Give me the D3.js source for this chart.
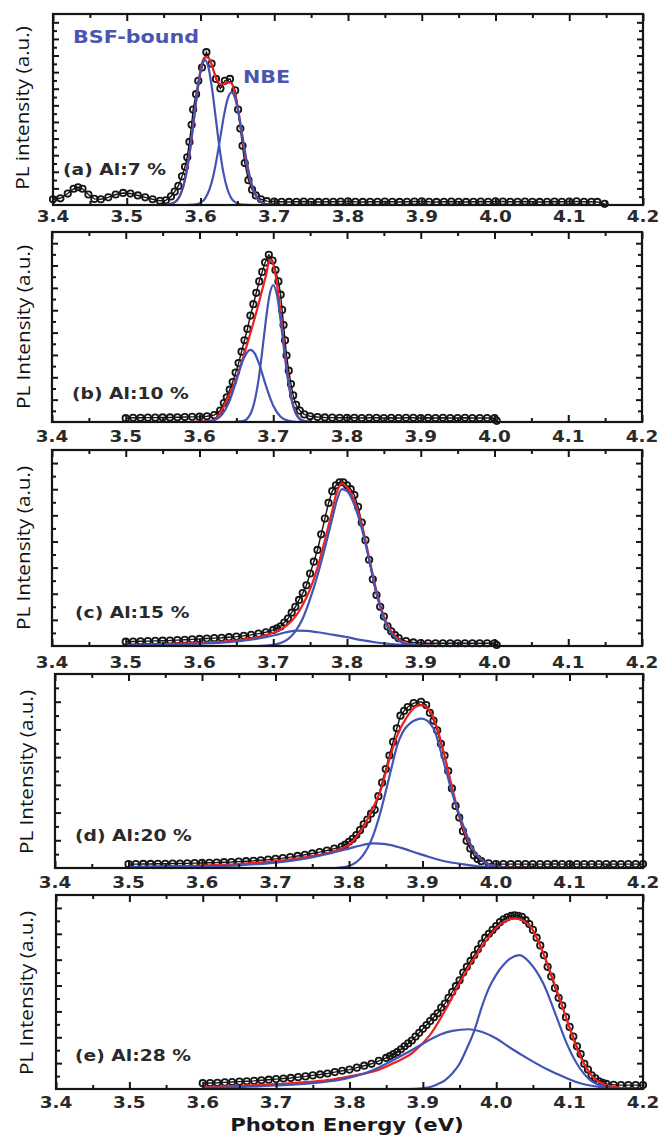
<!DOCTYPE html>
<html>
<head>
<meta charset="utf-8">
<script src="https://cdn.jsdelivr.net/npm/d3@7"></script>
<style>
body { margin: 0; background: #fff; }
svg { display: block; }
</style>
</head>
<body>
<div id="chart"></div>
<script>
// tick labels and texts
var energyTicks = [3.4, 3.5, 3.6, 3.7, 3.8, 3.9, 4.0, 4.1, 4.2];
var energyMinor = [3.45, 3.55, 3.65, 3.75, 3.85, 3.95, 4.05, 4.15];
var panelNames = ["(a) Al:7 %", "(b) Al:10 %", "(c) Al:15 %", "(d) Al:20 %", "(e) Al:28 %"];
var yTitles = ["PL intensity (a.u.)", "PL Intensity (a.u.)", "PL Intensity (a.u.)", "PL Intensity (a.u.)", "PL Intensity (a.u.)"];
var xTitle = "Photon Energy (eV)";
var peakNames = ["BSF-bound", "NBE"];

// (a) Al:7 %  -- [energy eV, intensity]
var dataA = [[3.400,.03],[3.410,.035],[3.420,.06],[3.428,.085],[3.434,.093],[3.440,.085],[3.448,.055],[3.456,.032],[3.465,.03],[3.475,.04],[3.485,.055],[3.495,.063],[3.505,.06],[3.515,.05],[3.525,.04],[3.535,.03],[3.545,.022],[3.553,.025],[3.560,.045],[3.565,.07],[3.570,.10],[3.575,.15],[3.579,.20],[3.582,.25],[3.585,.33],[3.588,.42],[3.590,.50],[3.594,.58],[3.597,.65],[3.602,.72],[3.608,.80],[3.615,.74],[3.621,.66],[3.627,.61],[3.633,.65],[3.640,.66],[3.647,.60],[3.651,.50],[3.654,.40],[3.657,.31],[3.660,.22],[3.665,.13],[3.670,.08],[3.675,.05],[3.682,.03],[3.690,.02],
  [3.70,.018],[3.71,.017],[3.72,.016],[3.73,.017],[3.74,.018],[3.75,.017],[3.76,.016],[3.77,.017],[3.78,.017],[3.79,.018],[3.80,.019],[3.81,.017],[3.82,.016],[3.83,.017],[3.84,.017],[3.85,.018],[3.86,.017],[3.87,.016],[3.88,.017],[3.89,.018],[3.90,.019],[3.91,.017],[3.92,.016],[3.93,.017],[3.94,.018],[3.95,.017],[3.96,.016],[3.97,.017],[3.98,.018],[3.99,.017],[4.00,.019],[4.01,.018],[4.02,.017],[4.03,.017],[4.04,.018],[4.05,.017],[4.06,.016],[4.07,.017],[4.08,.018],[4.09,.017],[4.10,.018],[4.11,.019],[4.12,.017],[4.13,.017],[4.138,.016],[4.148,.006]];
var fitA = [[3.40,0],[3.55,0],[3.556,.002],[3.566,.017],[3.571,.041],[3.576,.089],[3.581,.171],[3.586,.293],[3.591,.446],[3.596,.604],[3.601,.726],[3.606,.775],[3.611,.77],[3.616,.725],[3.621,.666],[3.626,.635],[3.631,.632],[3.636,.642],[3.641,.64],[3.646,.595],[3.651,.50],[3.656,.372],[3.661,.25],[3.666,.153],[3.671,.085],[3.676,.041],[3.681,.018],[3.69,.004],[3.71,0],[4.14,0]];
var bsfA = [[3.40,0],[3.55,0],[3.556,.002],[3.566,.017],[3.571,.041],[3.576,.089],[3.581,.171],[3.586,.293],[3.591,.445],[3.596,.60],[3.601,.716],[3.606,.76],[3.611,.716],[3.616,.60],[3.621,.445],[3.626,.293],[3.631,.171],[3.636,.089],[3.641,.041],[3.646,.017],[3.656,.002],[3.67,0],[4.14,0]];
var nbeA = [[3.40,0],[3.58,0],[3.592,.002],[3.602,.017],[3.607,.039],[3.612,.08],[3.617,.147],[3.622,.243],[3.627,.358],[3.632,.472],[3.637,.558],[3.642,.59],[3.647,.558],[3.652,.472],[3.657,.358],[3.662,.243],[3.667,.147],[3.672,.08],[3.677,.039],[3.682,.017],[3.692,.002],[3.71,0],[4.14,0]];

// (b) Al:10 %
var dataB = [[3.500,.02],[3.51,.022],[3.52,.022],[3.53,.023],[3.54,.023],[3.55,.024],[3.56,.024],[3.57,.025],[3.58,.026],[3.59,.027],[3.60,.028],[3.61,.03],[3.62,.036],[3.628,.06],[3.633,.10],[3.637,.13],[3.641,.17],[3.645,.21],[3.649,.26],[3.653,.31],[3.657,.37],[3.661,.43],[3.665,.49],[3.669,.56],[3.673,.62],[3.677,.68],[3.681,.74],[3.685,.79],[3.689,.84],[3.694,.88],[3.699,.85],[3.703,.80],[3.707,.74],[3.710,.67],[3.712,.59],[3.714,.51],[3.716,.43],[3.718,.35],[3.721,.27],[3.724,.20],[3.727,.14],[3.731,.09],[3.736,.06],[3.742,.04],[3.75,.03],[3.76,.026],[3.77,.024],[3.78,.023],[3.79,.022],[3.80,.022],[3.81,.022],[3.82,.021],[3.83,.022],[3.84,.022],[3.85,.021],[3.86,.022],[3.87,.021],[3.88,.022],[3.89,.022],[3.90,.021],[3.91,.022],[3.92,.021],[3.93,.022],[3.94,.021],[3.95,.021],[3.96,.022],[3.97,.021],[3.98,.021],[3.99,.021],[4.00,.02],[4.003,.006]];
var fitB = [[3.50,0],[3.58,0],[3.60,.002],[3.62,.012],[3.63,.06],[3.64,.14],[3.646,.19],[3.65,.23],[3.66,.35],[3.67,.48],[3.68,.62],[3.69,.77],[3.6955,.855],[3.699,.84],[3.705,.73],[3.71,.57],[3.715,.39],[3.72,.23],[3.725,.12],[3.73,.055],[3.74,.008],[3.75,.001],[3.76,0],[4.0,0]];
var bsfB = [[3.50,0],[3.58,0],[3.61,.002],[3.62,.009],[3.63,.036],[3.64,.104],[3.65,.218],[3.66,.335],[3.669,.38],[3.675,.36],[3.68,.315],[3.69,.192],[3.70,.086],[3.71,.028],[3.72,.007],[3.73,.001],[3.75,0],[4.0,0]];
var nbeB = [[3.50,0],[3.64,0],[3.65,.001],[3.66,.006],[3.67,.05],[3.68,.22],[3.685,.37],[3.69,.535],[3.695,.669],[3.70,.72],[3.705,.669],[3.71,.535],[3.715,.37],[3.72,.22],[3.73,.05],[3.74,.006],[3.75,.001],[3.76,0],[4.0,0]];

// (c) Al:15 %
var dataC = [[3.50,.022],[3.51,.023],[3.52,.024],[3.53,.025],[3.54,.026],[3.55,.027],[3.56,.028],[3.57,.03],[3.58,.032],[3.59,.034],[3.60,.036],[3.61,.038],[3.62,.04],[3.63,.042],[3.64,.045],[3.65,.048],[3.66,.052],[3.67,.057],[3.68,.063],[3.69,.07],[3.70,.082],[3.705,.09],[3.71,.10],[3.715,.12],[3.72,.14],[3.725,.17],[3.73,.20],[3.735,.235],[3.74,.27],[3.745,.31],[3.75,.37],[3.755,.43],[3.76,.49],[3.765,.57],[3.77,.65],[3.775,.73],[3.78,.79],[3.785,.82],[3.79,.835],[3.795,.835],[3.80,.82],[3.805,.80],[3.81,.77],[3.815,.71],[3.82,.63],[3.825,.54],[3.83,.44],[3.835,.34],[3.84,.26],[3.845,.20],[3.85,.15],[3.855,.10],[3.86,.075],[3.865,.055],[3.87,.04],[3.88,.025],[3.89,.018],[3.90,.015],[3.91,.014],[3.92,.014],[3.93,.014],[3.94,.014],[3.95,.014],[3.96,.014],[3.97,.014],[3.98,.014],[3.99,.014],[4.00,.014],[4.003,.005]];
var fitC = [[3.50,.005],[3.55,.01],[3.60,.016],[3.65,.028],[3.68,.045],[3.70,.068],[3.71,.085],[3.72,.11],[3.73,.15],[3.74,.21],[3.75,.29],[3.76,.40],[3.77,.54],[3.78,.69],[3.785,.77],[3.793,.83],[3.80,.81],[3.81,.74],[3.82,.62],[3.83,.45],[3.84,.28],[3.85,.15],[3.86,.075],[3.87,.035],[3.88,.015],[3.90,.004],[3.93,0],[4.0,0]];
var bsfC = [[3.50,.003],[3.55,.006],[3.60,.012],[3.64,.02],[3.67,.032],[3.69,.045],[3.705,.058],[3.72,.072],[3.732,.078],[3.745,.077],[3.76,.07],[3.78,.058],[3.80,.045],[3.82,.03],[3.84,.018],[3.86,.01],[3.88,.005],[3.92,.001],[4.0,0]];
var nbeC = [[3.50,0],[3.68,0],[3.69,.002],[3.70,.006],[3.71,.015],[3.72,.035],[3.73,.075],[3.74,.14],[3.75,.24],[3.76,.36],[3.77,.50],[3.78,.65],[3.786,.74],[3.793,.80],[3.80,.79],[3.81,.72],[3.82,.60],[3.83,.44],[3.84,.27],[3.85,.14],[3.86,.065],[3.87,.028],[3.88,.01],[3.90,.002],[3.92,0],[4.0,0]];

// (d) Al:20 %
var dataD = [[3.50,.02],[3.51,.02],[3.52,.021],[3.53,.021],[3.54,.022],[3.55,.022],[3.56,.023],[3.57,.023],[3.58,.024],[3.59,.025],[3.60,.026],[3.61,.027],[3.62,.028],[3.63,.03],[3.64,.031],[3.65,.033],[3.66,.035],[3.67,.037],[3.68,.04],[3.69,.043],[3.70,.047],[3.71,.051],[3.72,.056],[3.73,.062],[3.74,.068],[3.75,.075],[3.76,.082],[3.77,.09],[3.78,.10],[3.79,.11],[3.795,.12],[3.80,.135],[3.805,.15],[3.81,.17],[3.815,.195],[3.82,.225],[3.825,.25],[3.83,.28],[3.835,.30],[3.84,.37],[3.845,.44],[3.85,.51],[3.855,.58],[3.86,.65],[3.865,.72],[3.87,.785],[3.875,.81],[3.88,.83],[3.888,.85],[3.898,.857],[3.905,.84],[3.91,.80],[3.915,.76],[3.92,.71],[3.925,.64],[3.93,.58],[3.935,.50],[3.94,.41],[3.945,.32],[3.95,.26],[3.955,.19],[3.96,.14],[3.965,.10],[3.97,.065],[3.975,.047],[3.98,.035],[3.99,.024],[4.00,.02],[4.01,.02],[4.02,.02],[4.03,.02],[4.04,.02],[4.05,.02],[4.06,.02],[4.07,.02],[4.08,.021],[4.09,.02],[4.10,.02],[4.11,.02],[4.12,.02],[4.13,.02],[4.14,.02],[4.15,.02],[4.16,.02],[4.17,.02],[4.18,.02],[4.19,.02],[4.20,.02]];
var fitD = [[3.50,.005],[3.55,.008],[3.60,.012],[3.65,.02],[3.70,.035],[3.74,.055],[3.774,.08],[3.79,.10],[3.80,.12],[3.81,.16],[3.8195,.21],[3.83,.29],[3.843,.40],[3.856,.574],[3.865,.677],[3.879,.78],[3.89,.83],[3.899,.84],[3.91,.81],[3.92,.72],[3.93,.58],[3.94,.42],[3.95,.27],[3.96,.16],[3.97,.09],[3.98,.045],[3.99,.02],[4.00,.008],[4.02,.001],[4.05,0],[4.2,0]];
var bsfD = [[3.50,.004],[3.55,.006],[3.60,.009],[3.65,.014],[3.70,.028],[3.74,.048],[3.774,.075],[3.80,.10],[3.82,.12],[3.833,.127],[3.85,.123],[3.87,.105],[3.89,.08],[3.908,.058],[3.93,.035],[3.956,.019],[3.98,.007],[4.00,.002],[4.03,0],[4.2,0]];
var nbeD = [[3.50,0],[3.78,0],[3.79,.003],[3.80,.01],[3.81,.03],[3.82,.07],[3.83,.14],[3.84,.25],[3.851,.41],[3.86,.55],[3.865,.625],[3.873,.70],[3.883,.745],[3.899,.77],[3.915,.72],[3.928,.557],[3.942,.367],[3.956,.213],[3.969,.093],[3.983,.033],[3.997,.01],[4.01,.002],[4.03,0],[4.2,0]];

// (e) Al:28 %
var dataE = [[3.60,.03],[3.61,.031],[3.62,.032],[3.63,.034],[3.64,.036],[3.65,.038],[3.66,.04],[3.67,.042],[3.68,.045],[3.69,.048],[3.70,.051],[3.71,.054],[3.72,.057],[3.73,.061],[3.74,.065],[3.75,.07],[3.76,.075],[3.77,.08],[3.78,.087],[3.79,.094],[3.80,.10],[3.81,.11],[3.82,.12],[3.83,.13],[3.84,.145],[3.85,.16],[3.855,.17],[3.86,.18],[3.865,.19],[3.87,.205],[3.875,.22],[3.88,.235],[3.885,.25],[3.89,.27],[3.895,.29],[3.90,.31],[3.905,.33],[3.91,.35],[3.915,.37],[3.92,.39],[3.925,.42],[3.93,.44],[3.935,.47],[3.94,.50],[3.945,.53],[3.95,.56],[3.955,.60],[3.96,.63],[3.965,.66],[3.97,.69],[3.975,.72],[3.98,.75],[3.985,.78],[3.99,.80],[3.995,.82],[4.00,.84],[4.005,.86],[4.01,.875],[4.015,.885],[4.02,.892],[4.025,.895],[4.03,.893],[4.035,.887],[4.04,.87],[4.045,.85],[4.05,.82],[4.055,.78],[4.06,.74],[4.065,.69],[4.07,.63],[4.075,.58],[4.08,.52],[4.085,.47],[4.09,.43],[4.095,.37],[4.10,.32],[4.105,.27],[4.11,.22],[4.115,.18],[4.12,.13],[4.125,.10],[4.13,.07],[4.135,.055],[4.14,.04],[4.145,.032],[4.15,.026],[4.16,.022],[4.17,.02],[4.18,.02],[4.19,.02],[4.20,.02]];
var fitE = [[3.60,.01],[3.65,.016],[3.70,.025],[3.75,.038],[3.773,.047],[3.80,.065],[3.84,.10],[3.864,.14],[3.887,.19],[3.91,.28],[3.9325,.42],[3.955,.58],[3.978,.72],[4.00,.83],[4.0255,.88],[4.046,.84],[4.064,.70],[4.0777,.56],[4.0914,.41],[4.105,.26],[4.1187,.135],[4.132,.06],[4.15,.02],[4.17,.005],[4.2,0]];
var bsfE = [[3.60,.006],[3.65,.01],[3.70,.018],[3.75,.03],[3.773,.04],[3.796,.055],[3.82,.08],[3.842,.115],[3.865,.16],[3.887,.205],[3.905,.245],[3.923,.28],[3.94,.30],[3.962,.308],[3.98,.295],[4.00,.26],[4.02,.21],[4.046,.15],[4.07,.10],[4.091,.064],[4.11,.035],[4.128,.018],[4.145,.008],[4.16,.004],[4.18,.001],[4.2,0]];
var nbeE = [[3.60,0],[3.88,0],[3.90,.004],[3.91,.01],[3.92,.025],[3.93,.045],[3.94,.08],[3.95,.13],[3.96,.21],[3.97,.30],[3.98,.42],[3.99,.52],[4.00,.59],[4.01,.64],[4.02,.675],[4.032,.69],[4.046,.65],[4.064,.545],[4.082,.373],[4.096,.235],[4.11,.13],[4.128,.046],[4.146,.015],[4.16,.004],[4.18,0],[4.2,0]];

var series = [
  { data: dataA, fit: fitA, parts: [bsfA, nbeA] },
  { data: dataB, fit: fitB, parts: [bsfB, nbeB] },
  { data: dataC, fit: fitC, parts: [bsfC, nbeC] },
  { data: dataD, fit: fitD, parts: [bsfD, nbeD] },
  { data: dataE, fit: fitE, parts: [bsfE, nbeE] }
];

// frame geometry of each panel (pixels)
var frames = [
  { l: 53, r: 643, t: 14,  b: 205,  ny: 23, labDy: 17, name: [63, 175],  title: [29, 108] },
  { l: 52, r: 642, t: 232, b: 422,  ny: 17, labDy: 20, name: [72, 399],  title: [30, 327] },
  { l: 52, r: 642, t: 450, b: 646,  ny: 15, labDy: 22, name: [75, 618],  title: [30, 548] },
  { l: 55, r: 643, t: 674, b: 868,  ny: 14, labDy: 20, name: [75, 841],  title: [33, 772] },
  { l: 56, r: 643, t: 895, b: 1089, ny: 15, labDy: 19, name: [75, 1061], title: [33, 993] }
];

var BLUE = "#4254b4", RED = "#ee2020", INK = "#151515";
var BOLD = "'DejaVu Sans', Verdana, sans-serif";

var svg = d3.select("#chart").append("svg")
  .attr("width", 661)
  .attr("height", 1138);

/**
 * put a text, stretched a bit in its own direction
 */
function addText(g, str, x, y, o) {
  return g.append("text")
    .attr("transform", "translate(" + x + "," + y + ")" + (o.rot ? " rotate(-90)" : "") + " scale(" + o.sx + ",1)")
    .attr("text-anchor", o.anchor || "start")
    .style("font-family", o.font || BOLD)
    .style("font-size", o.size + "px")
    .style("font-weight", o.weight || "bold")
    .attr("fill", o.fill || INK)
    .text(str);
}

function tickGroup(g, axis) {
  g.append("g").attr("color", INK).call(axis)
    .call(function(s){ s.select(".domain").remove(); })
    .selectAll("line").attr("stroke-width", 2);
}

series.forEach(function(s, i){
  var f = frames[i];
  var x = d3.scaleLinear().domain([3.4, 4.2]).range([f.l, f.r]);
  var y = d3.scaleLinear().domain([0, 1]).range([f.b, f.t]);
  var g = svg.append("g");

  var line = d3.line()
    .x(function(d){ return x(d[0]); })
    .y(function(d){ return y(d[1]); })
    .curve(d3.curveMonotoneX);

  // measured points, with a faint trace so the dense parts read as a band
  g.append("path").datum(s.data)
    .attr("d", line.curve(d3.curveLinear)).attr("fill", "none")
    .attr("stroke", INK).attr("stroke-width", 1.4);
  line.curve(d3.curveMonotoneX);
  g.append("g").selectAll("circle")
    .data(s.data)
    .join("circle")
    .attr("cx", function(d){ return x(d[0]); })
    .attr("cy", function(d){ return y(d[1]); })
    .attr("r", 3.2)
    .attr("fill", "none")
    .attr("stroke", INK)
    .attr("stroke-width", 1.8);

  // total fit, then the two components
  g.append("path").datum(s.fit)
    .attr("d", line).attr("fill", "none")
    .attr("stroke", RED).attr("stroke-width", 2.2);
  s.parts.forEach(function(p){
    g.append("path").datum(p)
      .attr("d", line).attr("fill", "none")
      .attr("stroke", BLUE).attr("stroke-width", 2.2);
  });

  // ticks, all pointing inwards
  var yt = d3.range(1, f.ny).map(function(k){ return k / f.ny; });
  var yMaj = yt.filter(function(v, k){ return k % 2 === 1; });
  var yMin = yt.filter(function(v, k){ return k % 2 === 0; });
  var fmt = function(){ return ""; };
  tickGroup(g.append("g").attr("transform", "translate(0," + f.b + ")"), d3.axisBottom(x).tickValues(energyTicks).tickSize(-7).tickFormat(fmt));
  tickGroup(g.append("g").attr("transform", "translate(0," + f.b + ")"), d3.axisBottom(x).tickValues(energyMinor).tickSize(-4).tickFormat(fmt));
  tickGroup(g.append("g").attr("transform", "translate(0," + f.t + ")"), d3.axisTop(x).tickValues(energyTicks).tickSize(-7).tickFormat(fmt));
  tickGroup(g.append("g").attr("transform", "translate(0," + f.t + ")"), d3.axisTop(x).tickValues(energyMinor).tickSize(-4).tickFormat(fmt));
  tickGroup(g.append("g").attr("transform", "translate(" + f.l + ",0)"), d3.axisLeft(y).tickValues(yMaj).tickSize(-6).tickFormat(fmt));
  tickGroup(g.append("g").attr("transform", "translate(" + f.l + ",0)"), d3.axisLeft(y).tickValues(yMin).tickSize(-4).tickFormat(fmt));
  tickGroup(g.append("g").attr("transform", "translate(" + f.r + ",0)"), d3.axisRight(y).tickValues(yMaj).tickSize(-6).tickFormat(fmt));
  tickGroup(g.append("g").attr("transform", "translate(" + f.r + ",0)"), d3.axisRight(y).tickValues(yMin).tickSize(-4).tickFormat(fmt));

  // frame
  g.append("rect")
    .attr("x", f.l).attr("y", f.t)
    .attr("width", f.r - f.l).attr("height", f.b - f.t)
    .attr("fill", "none").attr("stroke", INK).attr("stroke-width", 2.2);

  // tick labels
  energyTicks.forEach(function(v){
    addText(g, d3.format(".1f")(v), x(v), f.b + f.labDy, { size: 16, sx: 1.15, anchor: "middle", fill: "#2a2a2a" });
  });

  addText(g, panelNames[i], f.name[0], f.name[1], { size: 16, sx: 1.17, fill: "#2a2a2a" });
  addText(g, yTitles[i], f.title[0], f.title[1], { size: 18, sx: 1.15, anchor: "middle", rot: true,
    font: "'Open Sans', sans-serif", weight: "normal", fill: "#111" });
});

// peak names in panel (a)
addText(svg, peakNames[0], 73, 43, { size: 18, sx: 1.15, fill: "#4a56b2" });
addText(svg, peakNames[1], 243, 83, { size: 18, sx: 1.15, fill: "#4a56b2" });

// common x title
addText(svg, xTitle, 347, 1131, { size: 18, sx: 1.18, anchor: "middle", fill: "#1a1a1a" });
</script>
</body>
</html>
